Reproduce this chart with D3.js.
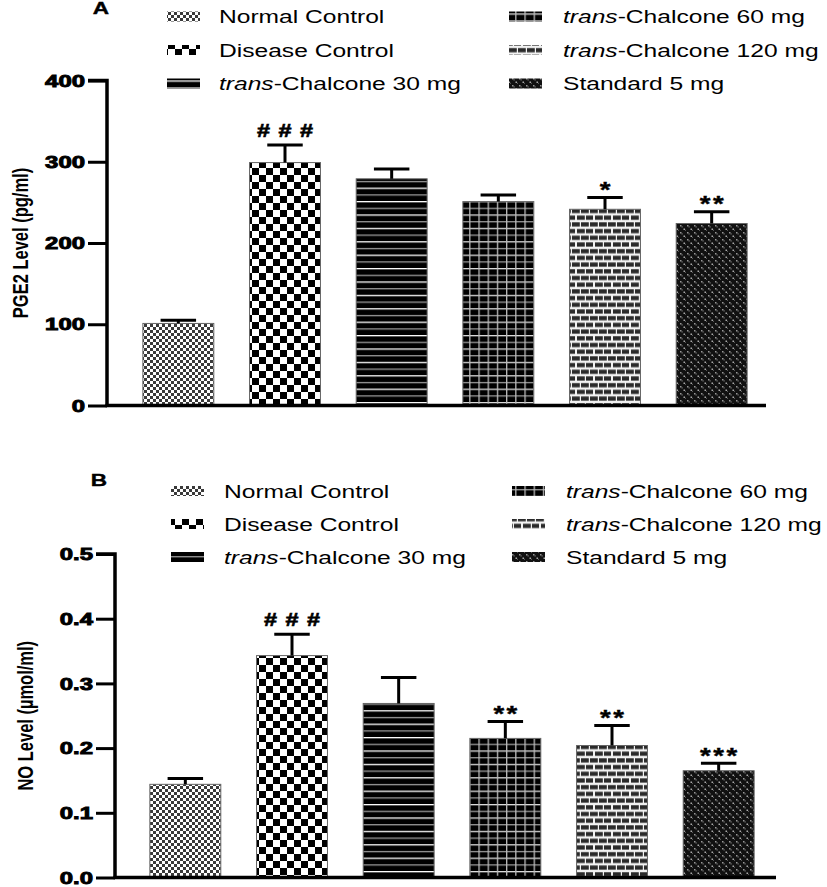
<!DOCTYPE html>
<html>
<head>
<meta charset="utf-8">
<script src="https://cdn.jsdelivr.net/npm/d3@7"></script>
<style>
  html, body { margin: 0; padding: 0; background: #fff; }
  svg { display: block; }
</style>
</head>
<body>
<svg id="chart" width="827" height="887"></svg>
<script>
// ---------------- DATA ----------------
const categories = ["Normal Control", "Disease Control", "trans-Chalcone 30 mg",
                    "trans-Chalcone 60 mg", "trans-Chalcone 120 mg", "Standard 5 mg"];
const pgeMean = [101, 299, 279, 251, 241.5, 224];
const pgeErr  = [4, 21.5, 12, 8, 14.5, 14.5];
const pgeSig  = ["", "###", "", "", "*", "**"];
const pgeTicks = [0, 100, 200, 300, 400];

const noMean = [0.144, 0.343, 0.269, 0.215, 0.204, 0.165];
const noErr  = [0.009, 0.033, 0.040, 0.026, 0.031, 0.0115];
const noSig  = ["", "###", "", "**", "**", "***"];
const noTicks = [0, 0.1, 0.2, 0.3, 0.4, 0.5];

const patternIds = ["pNormal", "pDisease", "p30", "p60", "p120", "pStd"];

// ---------------- SETUP ----------------
const svg = d3.select("#chart");
svg.append("rect").attr("width", 827).attr("height", 887).attr("fill", "#fff");
const defs = svg.append("defs");
const FONT = "'Liberation Sans', Arial, Helvetica, sans-serif";
const SX = 1.33; // horizontal stretch of the reference image

function pat(id, w, h, bg) {
  const p = defs.append("pattern").attr("id", id).attr("patternUnits", "userSpaceOnUse")
    .attr("width", w).attr("height", h);
  p.append("rect").attr("width", w).attr("height", h).attr("fill", bg);
  return p;
}
function r(p, x, y, w, h, c) { p.append("rect").attr("x", x).attr("y", y).attr("width", w).attr("height", h).attr("fill", c); }

// Normal control: fine checker
let p = pat("pNormal", 6, 6, "#fff");
r(p, 0, 0, 3, 3, "#3a3a3a"); r(p, 3, 3, 3, 3, "#3a3a3a");
// Disease control: coarse checker
p = pat("pDisease", 14, 14, "#fff");
r(p, 0, 0, 7, 7, "#000"); r(p, 7, 7, 7, 7, "#000");
// 30 mg: black with horizontal light lines
p = pat("p30", 10, 13.4, "#000");
r(p, 0, 0, 10, 1.3, "#fff"); r(p, 0, 6.7, 10, 1.3, "#999");
// 60 mg: black with grid
p = pat("p60", 9.2, 13.4, "#000");
r(p, 0, 0, 9.2, 1.3, "#ddd"); r(p, 0, 6.7, 9.2, 1.3, "#999"); r(p, 0, 0, 1.3, 13.4, "#bbb");
// 120 mg: bricks
p = pat("p120", 18, 13.4, "#f2f2f2");
r(p, 1, 1.2, 7.8, 4.2, "#2a2a2a"); r(p, 10, 1.2, 7, 4.2, "#2a2a2a");
r(p, 0, 7.9, 3.8, 4.2, "#2a2a2a"); r(p, 5, 7.9, 7.8, 4.2, "#2a2a2a"); r(p, 14, 7.9, 4, 4.2, "#2a2a2a");
// Standard: dark with small grey marks
p = pat("pStd", 7, 7, "#111");
r(p, 1, 1, 1.5, 1.5, "#999"); r(p, 2.5, 2.3, 1.2, 1.2, "#777"); r(p, 4.5, 4.5, 1.5, 1.5, "#aaa"); r(p, 6, 5.8, 1, 1, "#666");

function stretchText(g, x, y, txt, opts) {
  const t = g.append("text")
    .attr("transform", `translate(${x},${y}) scale(${opts.sx || SX},1)`)
    .attr("font-family", FONT)
    .attr("font-size", opts.size)
    .attr("font-weight", opts.weight || "normal")
    .attr("text-anchor", opts.anchor || "start")
    .attr("fill", "#000");
  if (opts.ls) t.attr("letter-spacing", opts.ls).attr("dx", opts.anchor === "middle" ? opts.ls / 2 : 0);
  if (opts.stroke) t.attr("stroke", "#000").attr("stroke-width", opts.stroke);
  if (txt.startsWith("trans-")) {
    t.append("tspan").attr("font-style", "italic").text("trans");
    t.append("tspan").text(txt.slice(5));
  } else {
    t.text(txt);
  }
  return t;
}

function drawPanel(cfg) {
  const g = svg.append("g");
  const x = d3.scaleBand().domain(categories).range(cfg.xRange)
    .paddingInner(0.335).paddingOuter(0.1675);
  const y = d3.scaleLinear().domain(cfg.yDomain).range(cfg.yRange);

  // bars
  g.selectAll("rect.bar").data(categories).join("rect")
    .attr("class", "bar")
    .attr("x", d => x(d))
    .attr("width", x.bandwidth())
    .attr("y", (d, i) => y(cfg.mean[i]))
    .attr("height", (d, i) => y(0) - y(cfg.mean[i]))
    .attr("fill", (d, i) => `url(#${patternIds[i]})`)
    .attr("stroke", "#666").attr("stroke-width", 1);

  // error bars
  categories.forEach((c, i) => {
    const cx = x(c) + x.bandwidth() / 2;
    const top = y(cfg.mean[i] + cfg.err[i]);
    g.append("line").attr("x1", cx).attr("x2", cx)
      .attr("y1", y(cfg.mean[i])).attr("y2", top)
      .attr("stroke", "#000").attr("stroke-width", 3);
    g.append("line").attr("x1", cx - x.bandwidth() / 4).attr("x2", cx + x.bandwidth() / 4)
      .attr("y1", top).attr("y2", top)
      .attr("stroke", "#000").attr("stroke-width", 3);
    const s = cfg.sig[i];
    if (s) {
      if (s[0] === "#") {
        stretchText(g, cx, top - 8, s, { size: 18, weight: "bold", anchor: "middle", ls: 6.5, sx: 1.3, stroke: 0.6 });
      } else {
        stretchText(g, cx, top - 0.5, s, { size: 22, weight: "bold", anchor: "middle", ls: 2, sx: 1.25, stroke: 0.4 });
      }
    }
  });

  // y axis
  const ax = g.append("g").attr("transform", `translate(${cfg.axisX},0)`)
    .call(d3.axisLeft(y).tickValues(cfg.ticks).tickFormat(cfg.fmt).tickSize(19).tickPadding(3));
  ax.select(".domain").attr("stroke", "#000").attr("stroke-width", 3.5)
    .attr("d", `M-19,${cfg.yRange[1]}H0V${cfg.yRange[0]}`);
  ax.selectAll(".tick line").attr("stroke", "#000").attr("stroke-width", 3);
  ax.selectAll(".tick text")
    .attr("font-family", FONT).attr("font-size", 16.5).attr("font-weight", "bold")
    .attr("fill", "#000").attr("stroke", "#000").attr("stroke-width", 0.9)
    .attr("dy", "0.34em")
    .attr("transform", "translate(-22,0) scale(1.45,1)").attr("x", 0);

  // x axis line
  g.append("line").attr("x1", cfg.axisX - 1.5).attr("x2", cfg.axisRight)
    .attr("y1", cfg.yRange[0]).attr("y2", cfg.yRange[0])
    .attr("stroke", "#000").attr("stroke-width", 3.5);

  // y label
  const mid = (cfg.yRange[0] + cfg.yRange[1]) / 2;
  g.append("text")
    .attr("transform", `translate(${cfg.labelX},${mid}) scale(1.3,1) rotate(-90)`)
    .attr("text-anchor", "middle")
    .attr("font-family", FONT).attr("font-size", 16.5).attr("font-weight", "bold")
    .attr("fill", "#000")
    .text(cfg.yLabel);

  // panel letter
  stretchText(g, cfg.letter[0], cfg.letter[1], cfg.letterText, { size: 17, weight: "bold", anchor: "middle", stroke: 0.4 });

  // legend
  const cols = [cfg.leg.c1, cfg.leg.c2];
  categories.forEach((c, i) => {
    const col = cols[Math.floor(i / 3)];
    const rowY = cfg.leg.rows[i % 3];
    g.append("rect").attr("x", col.sw).attr("y", rowY - 5).attr("width", 33).attr("height", 10)
      .attr("fill", `url(#${patternIds[i]})`);
    stretchText(g, col.tx, rowY + 6.5, c, { size: 18.5 });
  });
}

drawPanel({
  mean: pgeMean, err: pgeErr, sig: pgeSig, ticks: pgeTicks, fmt: d3.format("d"),
  yDomain: [0, 400], yRange: [405.5, 80.5], xRange: [125, 765],
  axisX: 107, axisRight: 766, labelX: 28, yLabel: "PGE2 Level (pg/ml)",
  letter: [101, 14], letterText: "A",
  leg: { rows: [16.5, 50, 83.5], c1: { sw: 167, tx: 219 }, c2: { sw: 509, tx: 563 } }
});

drawPanel({
  mean: noMean, err: noErr, sig: noSig, ticks: noTicks, fmt: d3.format(".1f"),
  yDomain: [0, 0.5], yRange: [877.5, 554], xRange: [132, 772],
  axisX: 115, axisRight: 776, labelX: 33, yLabel: "NO Level (µmol/ml)",
  letter: [99, 486], letterText: "B",
  leg: { rows: [491, 524, 557], c1: { sw: 171, tx: 224 }, c2: { sw: 512, tx: 566 } }
});
</script>
</body>
</html>
